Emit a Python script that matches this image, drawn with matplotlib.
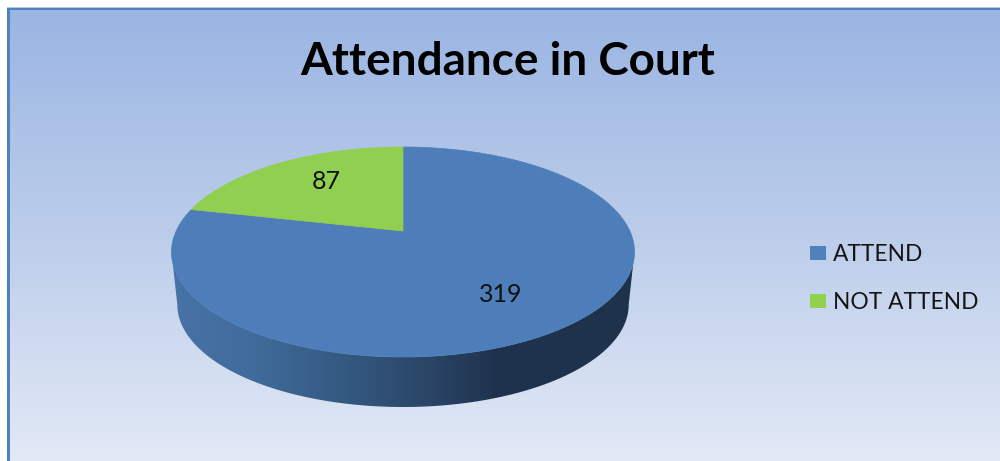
#!/usr/bin/env python3
"""Attendance in Court - 3D looking pie chart, drawn in pixel coordinates."""

import matplotlib
matplotlib.use('Agg')
import matplotlib.pyplot as plt
from matplotlib.colors import LinearSegmentedColormap
from matplotlib.patches import Polygon, Rectangle
import numpy as np

# Data
title = 'Attendance in Court'
categories = ['ATTEND', 'NOT ATTEND']
values = [319, 87]
colors = ['#4e7eb9', '#90cf50']

# Pie projection (unit circle to screen pixels, with a little perspective)
CX, CY = 403, 231
AX_X, AX_Y = 226.8, 100.8
PERSP = 0.2
DEPTH_SCALE = 0.975


def project(angle):
    """angle in radians, clockwise from 12 o'clock."""
    u, v = np.sin(angle), np.cos(angle)
    d = 1 + PERSP * v
    return CX + AX_X * u / d, CY - AX_Y * v / d


def wedge(start, end):
    t = np.linspace(start, end, 300)
    x, y = project(t)
    return np.column_stack([np.r_[CX, x], np.r_[CY, y]])


fig = plt.figure(figsize=(10, 4.61), dpi=100)
fig.patch.set_facecolor('white')
ax = fig.add_axes([0, 0, 1, 1])
ax.set_xlim(0, 1000)
ax.set_ylim(461, 0)
ax.axis('off')

# Background gradient and frame
bg = LinearSegmentedColormap.from_list('bg', ['#9ab5e3', '#bccdea', '#e2e9f6'])
ax.imshow(np.linspace(0, 1, 256).reshape(-1, 1), cmap=bg, aspect='auto',
          extent=(9, 1000, 461, 9), zorder=0)
ax.add_patch(Rectangle((7, 7), 993, 1.2, fc='#b5c8e6', ec='none', zorder=1))
ax.add_patch(Rectangle((7, 8), 993, 2, fc='#4f81bd', ec='none', zorder=1))
ax.add_patch(Rectangle((7, 8), 3.4, 453, fc='#4f81bd', ec='none', zorder=1))

# Side of the pie: lower half of the top rim plus a smaller, lower rim
t = np.linspace(0, 2 * np.pi, 721)
rim_x, rim_y = project(t)
left = rim_x.argmin()
right = rim_x.argmax()
low_t = np.linspace(t[right], t[left], 400)
low_x, low_y = project(low_t)
bot_x = CX + (low_x - CX) * DEPTH_SCALE
bot_y = 252 + (low_y - 252) * DEPTH_SCALE
bot_y = bot_y + 407 - bot_y.max()
side_pts = np.column_stack([np.r_[low_x, bot_x[::-1]], np.r_[low_y, bot_y[::-1]]])
side = Polygon(side_pts, closed=True, fc='none', ec='none', zorder=2)
ax.add_patch(side)

side_cmap = LinearSegmentedColormap.from_list(
    'side', [(0, '#4773a8'), (0.16, '#416c9c'), (0.37, '#345a82'),
             (0.56, '#2a4566'), (0.70, '#1f334e'), (1, '#1e324c')])
grad = ax.imshow(np.linspace(0, 1, 256).reshape(1, -1), cmap=side_cmap, aspect='auto',
                 extent=(171, 634, 420, 240), zorder=2)
grad.set_clip_path(side)
ax.set_xlim(0, 1000)
ax.set_ylim(461, 0)

# Top face, not attend wedge ends at 12 o'clock
total = sum(values)
sweep = [2 * np.pi * v / total for v in values]
ax.add_patch(Polygon(wedge(0, sweep[0]), closed=True, fc=colors[0], ec=colors[0],
                     lw=0.5, zorder=3))
ax.add_patch(Polygon(wedge(sweep[0], 2 * np.pi), closed=True, fc=colors[1], ec=colors[1],
                     lw=0.5, zorder=4))

# Data labels
ax.text(500.5, 294, str(values[0]), ha='center', va='center', fontsize=18,
        family='Lato', color='#101010', zorder=5)
ax.text(326.5, 181, str(values[1]), ha='center', va='center', fontsize=18,
        family='Lato', color='#101010', zorder=5)

# Title
ax.text(508, 62, title, ha='center', va='center', fontsize=33, fontweight='bold',
        family='Lato', color='black', zorder=5)

# Legend
for name, col, y in zip(categories, ['#4f81bd', '#92d050'], [253, 301]):
    ax.add_patch(Rectangle((810, y - 7), 16, 14, fc=col, ec='none', zorder=5))
    ax.text(833, y + 1, name, ha='left', va='center', fontsize=16.4, family='Lato',
            color='#151515', zorder=5)

fig.savefig('out.png', dpi=100, facecolor='white')
plt.close(fig)
